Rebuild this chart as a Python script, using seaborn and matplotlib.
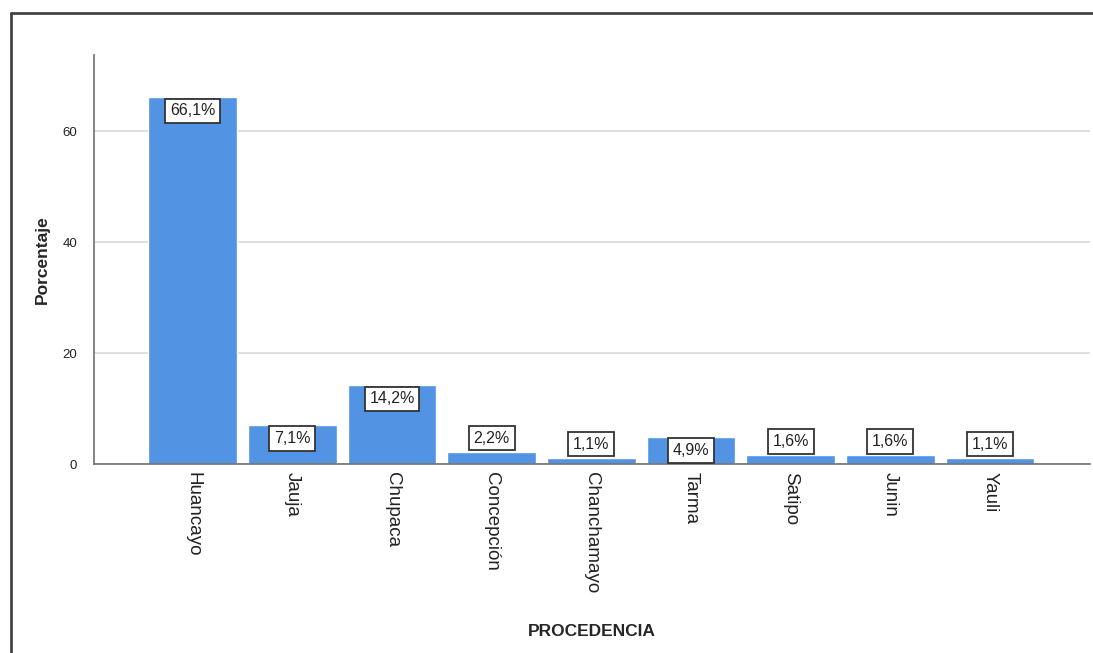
import matplotlib
matplotlib.use("Agg")
import matplotlib.pyplot as plt
from matplotlib.lines import Line2D
import seaborn as sns
import pandas as pd

# datos
procedencia = ["Huancayo", "Jauja", "Chupaca", "Concepción", "Chanchamayo",
               "Tarma", "Satipo", "Junin", "Yauli"]
porcentaje = [66.1, 7.1, 14.2, 2.2, 1.1, 4.9, 1.6, 1.6, 1.1]
etiquetas = ["66,1%", "7,1%", "14,2%", "2,2%", "1,1%", "4,9%", "1,6%", "1,6%", "1,1%"]

df = pd.DataFrame({"PROCEDENCIA": procedencia, "Porcentaje": porcentaje})

sns.set_theme(style="white")
plt.rcParams["font.family"] = ["Liberation Sans", "DejaVu Sans"]

fig = plt.figure(figsize=(10.93, 6.53), dpi=100)
ax = fig.add_axes([0.086, 0.2894, 0.911, 0.6264])

sns.barplot(data=df, x="PROCEDENCIA", y="Porcentaje", color="#5293E3",
            saturation=1, width=0.89, ax=ax)

ax.set_xlim(-0.99, 9.0)
ax.set_ylim(0, 73.7)
ax.set_yticks([0, 20, 40, 60])
ax.yaxis.grid(True, color="#d9d9d9", linewidth=1.2)
ax.set_axisbelow(True)
for s in ["top", "right"]:
    ax.spines[s].set_visible(False)
for s in ["left", "bottom"]:
    ax.spines[s].set_color("#707070")
    ax.spines[s].set_linewidth(1.2)
ax.tick_params(axis="both", length=0, labelsize=9.5, colors="#222222")
ax.tick_params(axis="x", labelsize=13.5, pad=6)
ax.tick_params(axis="y", pad=12)
plt.setp(ax.get_xticklabels(), rotation=-90, va="top", ha="center")

ax.set_ylabel("Porcentaje", fontsize=12.5, fontweight="bold", labelpad=9)
ax.set_xlabel("PROCEDENCIA", fontsize=12.5, fontweight="bold", labelpad=22)

# etiquetas en cajas
caja = dict(boxstyle="square,pad=0.3", facecolor="white", edgecolor="#333333", linewidth=1.3)
for i, (v, t) in enumerate(zip(porcentaje, etiquetas)):
    if v >= 4.5:
        ax.annotate(t, (i, v), xytext=(0, -4.5), textcoords="offset points",
                    ha="center", va="top", fontsize=11.5, bbox=caja, color="#222222")
    else:
        ax.annotate(t, (i, v), xytext=(0, 4.5), textcoords="offset points",
                    ha="center", va="bottom", fontsize=11.5, bbox=caja, color="#222222")

# marco exterior
fig.add_artist(Line2D([0.0101, 1.0], [0.980, 0.980], color="#444444", linewidth=2,
                      transform=fig.transFigure))
fig.add_artist(Line2D([0.0101, 0.0101], [0.0, 0.980], color="#444444", linewidth=2,
                      transform=fig.transFigure))

fig.savefig("out.png", dpi=100)
